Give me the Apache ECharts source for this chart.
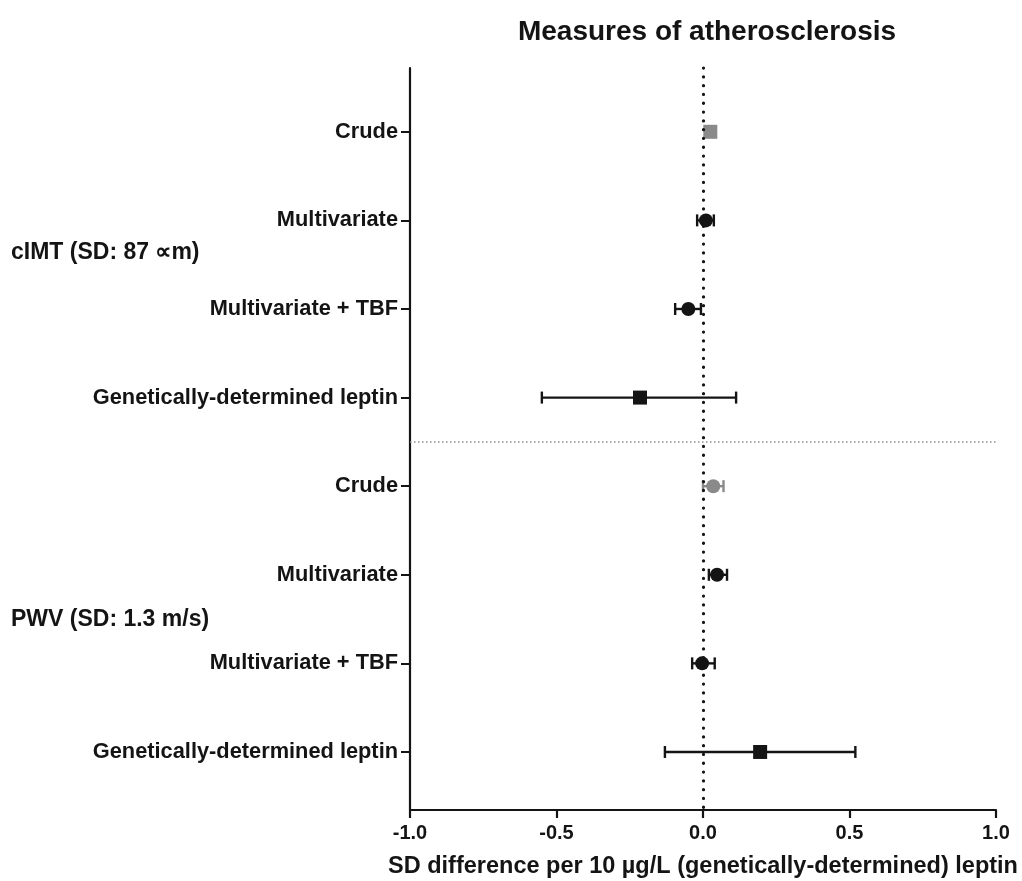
<!DOCTYPE html>
<html>
<head>
<meta charset="utf-8">
<script src="https://cdn.jsdelivr.net/npm/echarts@6/dist/echarts.min.js"></script>
<style>html,body{margin:0;padding:0;background:#fff}#c{width:1022px;height:881px}</style>
</head>
<body>
<div id="c"></div>
<script>
// ---- data ----
var rowLabels = ['Crude', 'Multivariate', 'Multivariate + TBF', 'Genetically-determined leptin',
                 'Crude', 'Multivariate', 'Multivariate + TBF', 'Genetically-determined leptin'];
var groupLabels = ['cIMT (SD: 87 \u221Dm)', 'PWV (SD: 1.3 m/s)'];
var estimate = [0.025, 0.010, -0.050, -0.215, 0.035, 0.048, -0.003, 0.195];
var lower    = [0.020, -0.020, -0.095, -0.550, 0.000, 0.020, -0.037, -0.130];
var upper    = [0.030, 0.037, -0.007, 0.113, 0.070, 0.082, 0.040, 0.520];
var xTicks = [-1.0, -0.5, 0.0, 0.5, 1.0];
var title = 'Measures of atherosclerosis';
var xName = 'SD difference per 10 \u00B5g/L (genetically-determined) leptin';

// ---- chart ----
var FONT = '"Liberation Sans", Arial, sans-serif';
var INK = '#141414';
var rows = rowLabels.map(function (_, i) { return i; });
function isSquare(i) { return i === 0 || i === 3 || i === 7; }
function isGray(i) { return i === 0 || i === 4; }

var chart = echarts.init(document.getElementById('c'), null, {renderer: 'canvas'});
chart.setOption({
  backgroundColor: '#fff',
  animation: false,
  title: {
    text: title, left: 702, top: 13, textAlign: 'center',
    textStyle: {fontFamily: FONT, fontWeight: 'bold', fontSize: 28, color: INK}
  },
  grid: {left: 410, right: 26, top: 68, bottom: 71, containLabel: false, outerBoundsMode: 'none'},
  xAxis: {
    type: 'value', min: -1, max: 1, interval: 0.5,
    axisLine: {show: true, onZero: false, lineStyle: {color: INK, width: 2.2}},
    axisTick: {show: true, length: 8, customValues: xTicks, lineStyle: {color: INK, width: 2.2}},
    splitLine: {show: false},
    axisLabel: {
      customValues: xTicks,
      fontFamily: FONT, fontWeight: 'bold', fontSize: 20, color: INK, margin: 13,
      formatter: function (v) { return v.toFixed(1); }
    },
    name: xName, nameLocation: 'middle', nameGap: 45,
    nameTextStyle: {fontFamily: FONT, fontWeight: 'bold', fontSize: 23.5, color: INK}
  },
  yAxis: {
    type: 'value', inverse: true, min: -0.72, max: 7.655,
    axisLine: {show: true, onZero: false, lineStyle: {color: INK, width: 2.2}},
    axisTick: {show: true, length: 9, customValues: rows, lineStyle: {color: INK, width: 2}},
    splitLine: {show: false},
    axisLabel: {
      customValues: rows, margin: 12,
      fontFamily: FONT, fontWeight: 'bold', fontSize: 21.8, color: INK,
      formatter: function (v) { return rowLabels[Math.round(v)]; }
    }
  },
  graphic: [
    {type: 'text', left: 11, top: 241, style: {text: groupLabels[0], font: 'bold 23px ' + FONT, fill: INK}},
    {type: 'text', left: 11, top: 608, style: {text: groupLabels[1], font: 'bold 23px ' + FONT, fill: INK}}
  ],
  series: [
    {
      type: 'line', data: [], silent: true,
      markLine: {
        symbol: 'none', silent: true, label: {show: false},
        data: [
          [{coord: [0, -0.72]}, {coord: [0, 7.655]}]
        ],
        lineStyle: {color: INK, width: 3.2, type: [0.1, 8.7], cap: 'round'}
      }
    },
    {
      type: 'line', data: [], silent: true,
      markLine: {
        symbol: 'none', silent: true, label: {show: false},
        data: [[{coord: [-1, 3.5]}, {coord: [1, 3.5]}]],
        lineStyle: {color: '#8c8c8c', width: 1.5, type: [1.5, 2.5]}
      }
    },
    {
      type: 'custom',
      data: rows.map(function (i) { return [lower[i], upper[i], i]; }),
      renderItem: function (params, api) {
        var a = api.coord([api.value(0), api.value(2)]);
        var b = api.coord([api.value(1), api.value(2)]);
        var h = 6;
        var col = isGray(params.dataIndex) ? '#8a8a8a' : INK;
        var st = {stroke: col, lineWidth: 2.4, fill: null};
        return {
          type: 'group',
          children: [
            {type: 'line', shape: {x1: a[0], y1: a[1], x2: b[0], y2: b[1]}, style: st},
            {type: 'line', shape: {x1: a[0], y1: a[1] - h, x2: a[0], y2: a[1] + h}, style: st},
            {type: 'line', shape: {x1: b[0], y1: b[1] - h, x2: b[0], y2: b[1] + h}, style: st}
          ]
        };
      },
      z: 3
    },
    {
      type: 'scatter',
      data: rows.map(function (i) {
        return {
          value: [estimate[i], i],
          symbol: isSquare(i) ? 'rect' : 'circle',
          symbolSize: 14,
          itemStyle: {color: isGray(i) ? '#8a8a8a' : INK, opacity: 1}
        };
      }),
      emphasis: {disabled: true},
      z: 4
    }
  ]
});
</script>
</body>
</html>
